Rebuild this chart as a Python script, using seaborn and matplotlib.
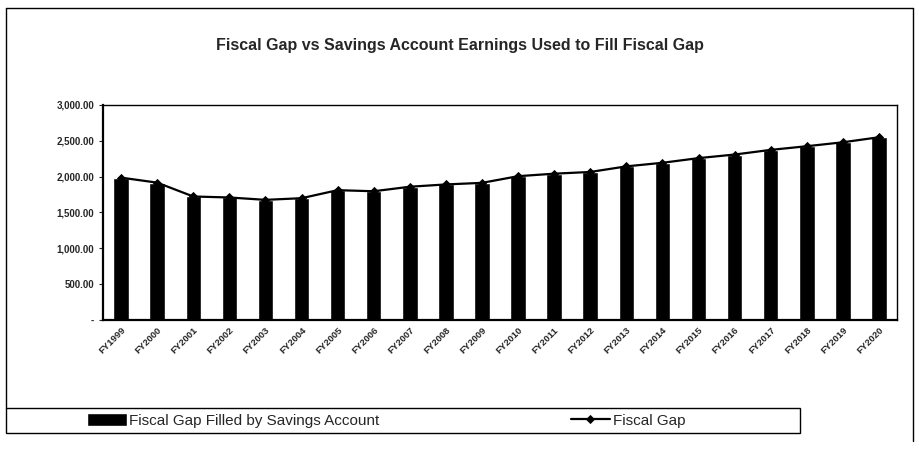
import matplotlib
matplotlib.use("Agg")
import matplotlib.pyplot as plt
from matplotlib.lines import Line2D
from matplotlib.patches import Rectangle
from matplotlib.ticker import FuncFormatter
import pandas as pd
import seaborn as sns

# data
years = ["FY1999", "FY2000", "FY2001", "FY2002", "FY2003", "FY2004", "FY2005", "FY2006",
         "FY2007", "FY2008", "FY2009", "FY2010", "FY2011", "FY2012", "FY2013", "FY2014",
         "FY2015", "FY2016", "FY2017", "FY2018", "FY2019", "FY2020"]
filled_by_savings = [1985, 1915, 1722, 1708, 1675, 1698, 1810, 1795,
                     1858, 1890, 1912, 2005, 2040, 2064, 2142, 2192,
                     2257, 2307, 2372, 2423, 2478, 2548]
fiscal_gap = [1985, 1915, 1722, 1708, 1675, 1698, 1810, 1795,
              1858, 1890, 1912, 2005, 2040, 2064, 2142, 2192,
              2257, 2307, 2372, 2423, 2478, 2548]
y_ticks = [0, 500, 1000, 1500, 2000, 2500, 3000]

df = pd.DataFrame({"Year": years, "Filled": filled_by_savings, "Gap": fiscal_gap})

sns.set_style("white")
plt.rcParams["font.family"] = ["Liberation Sans", "DejaVu Sans"]

fig = plt.figure(figsize=(9.2, 4.5), dpi=100)
ax = fig.add_axes([0.112, 0.289, 0.863, 0.478])

sns.barplot(data=df, x="Year", y="Filled", color="black", width=0.43,
            saturation=1, ax=ax, label="Fiscal Gap Filled by Savings Account")
sns.pointplot(data=df, x="Year", y="Gap", color="black", markers="D",
              markersize=3.5, linewidth=1.6, ax=ax, label="Fiscal Gap")
handles, labels = ax.get_legend_handles_labels()
if ax.get_legend() is not None:
    ax.get_legend().remove()

ax.set_ylim(0, 3000)
ax.set_xlim(-0.5, len(years) - 0.5)
ax.set_yticks(y_ticks)
ax.yaxis.set_major_formatter(FuncFormatter(lambda v, p: "-" if v == 0 else f"{v:,.2f}"))
ax.tick_params(axis="y", labelsize=7, length=3, direction="out", left=True, width=0.8)
ax.tick_params(axis="x", labelsize=6.8, length=0, pad=4)
for lab in ax.get_yticklabels():
    lab.set_fontweight("bold")
plt.setp(ax.get_xticklabels(), rotation=45, ha="right", rotation_mode="anchor", fontweight="bold")
ax.set_xlabel("")
ax.set_ylabel("")

for side in ["top", "right", "bottom"]:
    ax.spines[side].set_visible(True)
    ax.spines[side].set_color("black")
    ax.spines[side].set_linewidth(1.0)
ax.spines["left"].set_color("black")
ax.spines["left"].set_linewidth(1.6)
ax.spines["bottom"].set_linewidth(1.6)

# title
fig.text(0.5, 0.898, "Fiscal Gap vs Savings Account Earnings Used to Fill Fiscal Gap",
         ha="center", va="center", fontsize=11.5, fontweight="bold")

# legend at the bottom, in its own box (bars first, then the line)
order = [labels.index("Fiscal Gap Filled by Savings Account"), labels.index("Fiscal Gap")]
fig.legend([handles[i] for i in order], [labels[i] for i in order],
           loc="center left", bbox_to_anchor=(0.095, 0.066), ncol=2,
           frameon=False, fontsize=11, columnspacing=12.5, handlelength=2.6,
           handleheight=0.9, handletextpad=0.15, borderpad=0, borderaxespad=0)
fig.patches.append(Rectangle((0.006, 0.038), 0.864, 0.056, transform=fig.transFigure,
                             fill=False, edgecolor="black", linewidth=1.0))

# outer chart frame
fig.lines.append(Line2D([0.006, 0.992], [0.982, 0.982], transform=fig.transFigure, color="black", lw=1.0))
fig.lines.append(Line2D([0.006, 0.006], [0.982, 0.094], transform=fig.transFigure, color="black", lw=1.0))
fig.lines.append(Line2D([0.992, 0.992], [0.982, 0.02], transform=fig.transFigure, color="black", lw=1.0))

fig.savefig("out.png", dpi=100)
